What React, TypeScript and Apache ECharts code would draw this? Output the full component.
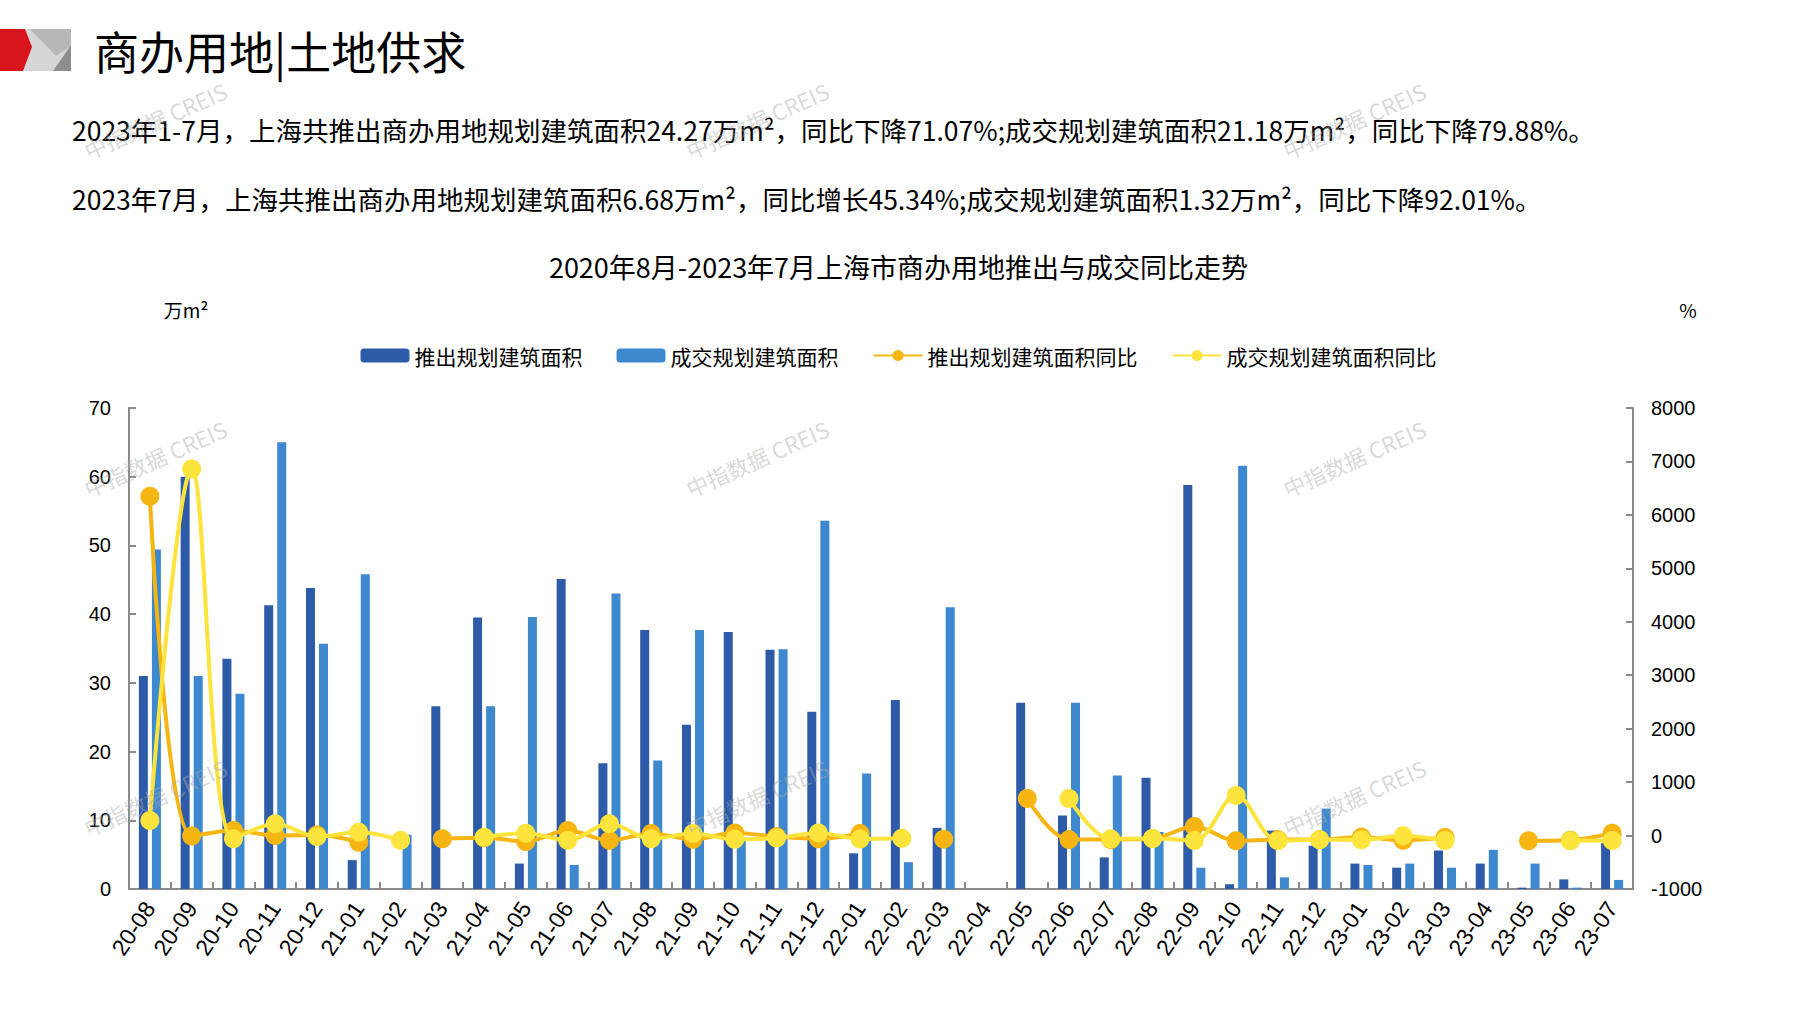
import React, { useEffect, useRef } from "react";
import * as echarts from "echarts";

const categories = [
  "20-08", "20-09", "20-10", "20-11", "20-12",
  "21-01", "21-02", "21-03", "21-04", "21-05", "21-06", "21-07", "21-08", "21-09", "21-10", "21-11", "21-12",
  "22-01", "22-02", "22-03", "22-04", "22-05", "22-06", "22-07", "22-08", "22-09", "22-10", "22-11", "22-12",
  "23-01", "23-02", "23-03", "23-04", "23-05", "23-06", "23-07",
];

// 推出规划建筑面积 (万m²)
const launchArea = [
  31.0, 60.0, 33.5, 41.3, 43.8,
  4.2, 0, 26.6, 39.5, 3.7, 45.1, 18.3, 37.7, 23.9, 37.4, 34.8, 25.8,
  5.2, 27.5, 8.9, 0, 27.1, 10.7, 4.6, 16.2, 58.8, 0.7, 8.5, 6.3,
  3.7, 3.1, 5.6, 3.7, 0.2, 1.4, 6.68,
];

// 成交规划建筑面积 (万m²)
const dealArea = [
  49.4, 31.0, 28.4, 65.0, 35.7,
  45.8, 7.9, 0, 26.6, 39.6, 3.5, 43.0, 18.7, 37.7, 7.5, 34.9, 53.6,
  16.8, 3.9, 41.0, 0, 0, 27.1, 16.5, 8.3, 3.1, 61.6, 1.7, 11.7,
  3.5, 3.7, 3.1, 5.7, 3.7, 0.2, 1.32,
];

// 推出规划建筑面积同比 (%)
const launchYoY = [
  6350, -10, 95, 0, 10,
  -125, null, -60, -40, -110, 95, -90, 40, -70, 50, -20, -60,
  40, null, -67, null, 692, -76, -75, -57, 170, -98, -76, -76,
  -29, -89, -37, null, -99, -87, 45,
];

// 成交规划建筑面积同比 (%)
const dealYoY = [
  280, 6860, -60, 220, -20,
  60, -90, null, -30, 45, -90, 220, -60, 40, -70, -46, 50,
  -63, -50, null, null, null, 692, -62, -56, -92, 750, -95, -78,
  -79, -5, -92, null, null, -99, -92,
];

const leftTicks = { min: 0, max: 70, interval: 10 };
const rightTicks = { min: -1000, max: 8000, interval: 1000 };

const headerTitle = "商办用地|土地供求";
const para1 = "2023年1-7月，上海共推出商办用地规划建筑面积24.27万m²，同比下降71.07%;成交规划建筑面积21.18万m²，同比下降79.88%。";
const para2 = "2023年7月，上海共推出商办用地规划建筑面积6.68万m²，同比增长45.34%;成交规划建筑面积1.32万m²，同比下降92.01%。";
const chartTitle = "2020年8月-2023年7月上海市商办用地推出与成交同比走势";
const seriesNames = ["推出规划建筑面积", "成交规划建筑面积", "推出规划建筑面积同比", "成交规划建筑面积同比"];
const watermark = "中指数据 CREIS";

const CJK = '"Noto Sans CJK SC", "Noto Sans", sans-serif';
const LATIN = '"Liberation Sans", Arial, sans-serif';

const COLORS = {
  launch: "#2E5BA8",
  deal: "#3E88CF",
  launchYoY: "#F6B511",
  dealYoY: "#FCE43C",
  axis: "#8A8A8A",
};

export default function App() {
  const ref = useRef<HTMLDivElement | null>(null);

  useEffect(() => {
    if (!ref.current) return;
    const chart = echarts.init(ref.current, undefined, { renderer: "svg" });

    const wmPositions = [
      [155, 120], [757, 120], [1354, 120],
      [155, 458], [757, 458], [1354, 458],
      [155, 797], [757, 797], [1354, 797],
    ];

    const watermarks = wmPositions.map(([x, y]) => ({
      type: "text",
      x,
      y,
      rotation: (24 * Math.PI) / 180,
      z: 100,
      silent: true,
      style: {
        text: watermark,
        fill: "rgba(170,170,170,0.45)",
        font: `22px ${CJK}`,
        textAlign: "center",
        textVerticalAlign: "middle",
      },
    }));

    const option: any = {
      animation: false,
      backgroundColor: "#ffffff",
      title: {
        text: chartTitle,
        left: "center",
        top: 248,
        textStyle: { fontFamily: CJK, fontSize: 27, fontWeight: "normal", color: "#000" },
      },
      legend: {
        top: 340,
        left: "center",
        itemWidth: 49,
        itemHeight: 14,
        itemGap: 34,
        textStyle: { fontFamily: CJK, fontSize: 21, color: "#000" },
        data: seriesNames,
      },
      grid: { left: 129, right: 164, top: 408, height: 481, containLabel: false },
      xAxis: {
        type: "category",
        data: categories,
        boundaryGap: true,
        axisLine: { show: true, lineStyle: { color: COLORS.axis, width: 2 } },
        axisTick: { show: true, inside: true, length: 7, interval: 0, lineStyle: { color: COLORS.axis, width: 2 } },
        axisLabel: {
          interval: 0,
          rotate: 56,
          margin: 15,
          fontFamily: LATIN,
          fontSize: 23,
          color: "#000",
        },
        splitLine: { show: false },
      },
      yAxis: [
        {
          type: "value",
          min: leftTicks.min,
          max: leftTicks.max,
          interval: leftTicks.interval,
          axisLine: { show: true, lineStyle: { color: COLORS.axis, width: 2 } },
          axisTick: { show: true, inside: true, length: 7, lineStyle: { color: COLORS.axis, width: 2 } },
          axisLabel: { fontFamily: LATIN, fontSize: 20, color: "#000", margin: 18, formatter: (v: number) => String(v) },
          splitLine: { show: false },
        },
        {
          type: "value",
          min: rightTicks.min,
          max: rightTicks.max,
          interval: rightTicks.interval,
          position: "right",
          axisLine: { show: true, lineStyle: { color: COLORS.axis, width: 2 } },
          axisTick: { show: true, inside: true, length: 7, lineStyle: { color: COLORS.axis, width: 2 } },
          axisLabel: { fontFamily: LATIN, fontSize: 20, color: "#000", margin: 18, formatter: (v: number) => String(v) },
          splitLine: { show: false },
        },
      ],
      series: [
        {
          name: seriesNames[0],
          type: "bar",
          data: launchArea,
          barWidth: 9,
          barGap: "45%",
          itemStyle: { color: COLORS.launch },
          emphasis: { disabled: true },
        },
        {
          name: seriesNames[1],
          type: "bar",
          data: dealArea,
          barWidth: 9,
          barGap: "45%",
          itemStyle: { color: COLORS.deal },
          emphasis: { disabled: true },
        },
        {
          name: seriesNames[2],
          type: "line",
          yAxisIndex: 1,
          data: launchYoY,
          smooth: 0.35,
          connectNulls: false,
          symbol: "circle",
          symbolSize: 19,
          showSymbol: true,
          lineStyle: { width: 4, color: COLORS.launchYoY },
          itemStyle: { color: COLORS.launchYoY },
          emphasis: { disabled: true },
          z: 3,
        },
        {
          name: seriesNames[3],
          type: "line",
          yAxisIndex: 1,
          data: dealYoY,
          smooth: 0.35,
          connectNulls: false,
          symbol: "circle",
          symbolSize: 19,
          showSymbol: true,
          lineStyle: { width: 4, color: COLORS.dealYoY },
          itemStyle: { color: COLORS.dealYoY },
          emphasis: { disabled: true },
          z: 4,
        },
      ],
      graphic: [
        // header logo
        { type: "polygon", shape: { points: [[24, 29], [71, 29], [71, 71], [22, 71]] }, style: { fill: "#D6D6D6" }, silent: true },
        { type: "polygon", shape: { points: [[30, 29], [71, 29], [71, 46], [56, 56]] }, style: { fill: "#B7B7B7" }, silent: true },
        { type: "polygon", shape: { points: [[71, 45], [71, 71], [53, 71]] }, style: { fill: "#8E8E8E" }, silent: true },
        { type: "polygon", shape: { points: [[0, 29], [25, 29], [32, 47], [23, 71], [0, 71]] }, style: { fill: "#D8141C" }, silent: true },
        {
          type: "text",
          x: 94,
          y: 50,
          style: { text: headerTitle, font: `45px ${CJK}`, fill: "#000", textVerticalAlign: "middle" },
        },
        {
          type: "text",
          x: 72,
          y: 129,
          style: { text: para1, font: `26.5px ${CJK}`, fill: "#000", textVerticalAlign: "middle" },
        },
        {
          type: "text",
          x: 72,
          y: 198,
          style: { text: para2, font: `26.5px ${CJK}`, fill: "#000", textVerticalAlign: "middle" },
        },
        {
          type: "text",
          x: 186,
          y: 309,
          style: { text: "万m²", font: `19px ${CJK}`, fill: "#000", textAlign: "center", textVerticalAlign: "middle" },
        },
        {
          type: "text",
          x: 1688,
          y: 309,
          style: { text: "%", font: `19px ${CJK}`, fill: "#000", textAlign: "center", textVerticalAlign: "middle" },
        },
        ...watermarks,
      ],
    };

    chart.setOption(option);
    return () => chart.dispose();
  }, []);

  return (
    <div
      ref={ref}
      style={{ position: "fixed", left: 0, top: 0, width: "100vw", height: "100vh", background: "#fff" }}
    />
  );
}
